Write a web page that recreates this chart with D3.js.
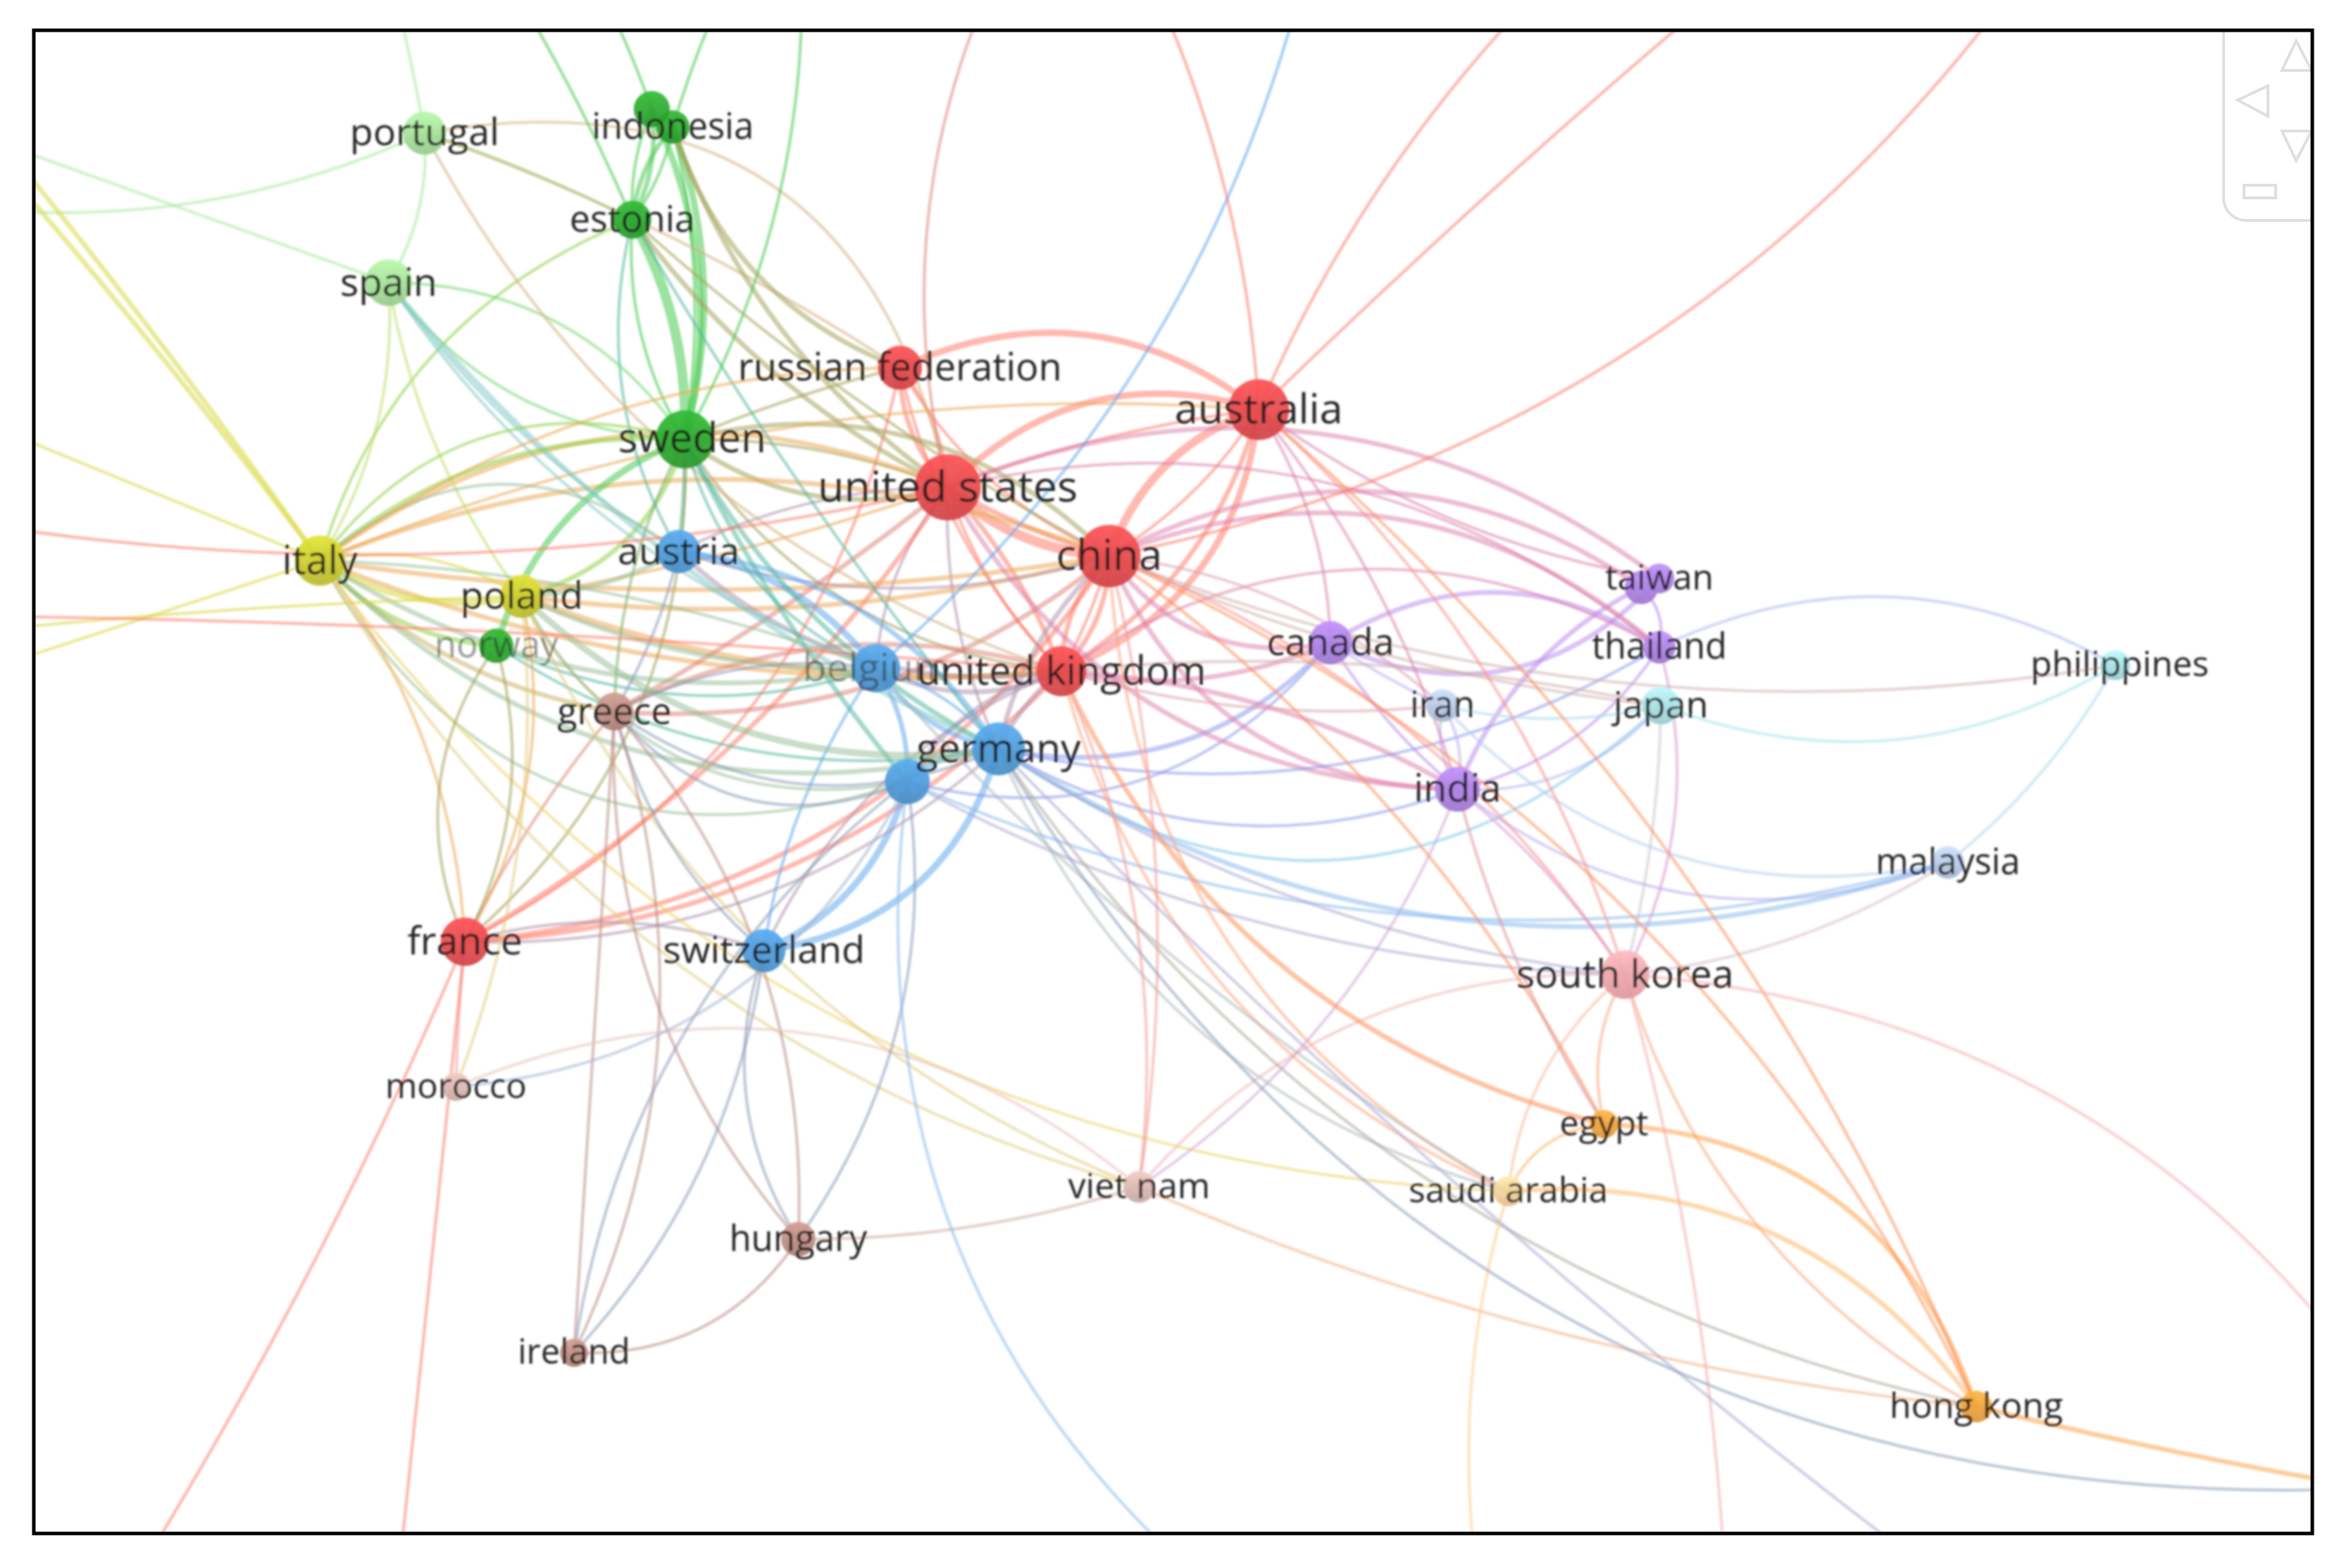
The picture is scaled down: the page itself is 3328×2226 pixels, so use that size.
<!DOCTYPE html>
<html>
<head>
<meta charset="utf-8">
<title>country map</title>
<script src="https://cdn.jsdelivr.net/npm/d3@7"></script>
<style>
    html, body { margin: 0; padding: 0; background: #fff; }
    svg { display: block; }
    text { font-family: "Open Sans", sans-serif; }
</style>
</head>
<body>
<div id="map"></div>
<script>
/* countries: name, map x, map y, occurrences, cluster */
const countries = [
    ['portugal', 284, 89, 24, 5], ['indonesia', 450, 85, 13, 1], ['finland', 436, 73, 16, 1],
    ['estonia', 423, 147, 18, 1], ['spain', 260, 189, 28, 5], ['sweden', 458, 294, 41, 1],
    ['russian federation', 602, 246, 25, 0], ['australia', 842, 274, 44, 0], ['united states', 634, 326, 50, 0],
    ['austria', 454, 369, 24, 2], ['china', 742, 372, 46, 0], ['italy', 214, 375, 32, 3],
    ['poland', 349, 399, 24, 3], ['norway', 332, 432, 14, 1], ['belgium', 586, 447, 30, 2],
    ['united kingdom', 710, 449, 32, 0], ['canada', 890, 430, 24, 4], ['taiwan', 1110, 387, 9, 4],
    ['singapore', 1098, 393, 13, 4], ['thailand', 1110, 433, 12, 4], ['iran', 965, 472, 12, 10],
    ['japan', 1111, 472, 18, 6], ['philippines', 1415, 445, 9, 6], ['germany', 668, 501, 35, 2],
    ['netherlands', 607, 523, 26, 2], ['greece', 411, 476, 18, 9], ['india', 975, 528, 26, 4],
    ['malaysia', 1303, 577, 12, 10], ['south korea', 1087, 652, 30, 8], ['france', 311, 630, 30, 0],
    ['switzerland', 511, 636, 24, 2], ['morocco', 305, 727, 7, 12], ['egypt', 1073, 752, 7, 7],
    ['viet nam', 762, 794, 11, 12], ['saudi arabia', 1009, 797, 9, 11], ['hungary', 534, 829, 14, 9],
    ['ireland', 384, 905, 7, 9], ['hong kong', 1322, 941, 11, 7]
];

/* no label on screen, covered by another node in the original */
const unlabelled = ['finland', 'netherlands', 'singapore'];
const fadedLabels = ['norway', 'belgium'];

const clusterColors = ['#e2474a', '#2aa52e', '#4c98d6', '#c9c92e', '#aa7fe0', '#a2dc96',
    '#a6dde0', '#f2a03c', '#f3a3a9', '#b98a80', '#b4c6e2', '#f6cf96', '#d6b4ae'];
const linkColors = ['#ff7866', '#42c848', '#5aa5ee', '#d6d63c', '#b888ee', '#a4e898',
    '#a0e4ee', '#ffa040', '#f8a8b0', '#b88c84', '#b4ccf0', '#ffcc88', '#e8c0bc'];

/* links leaving the visible part of the map: x, y, cluster */
const offMap = {
    o1: [258, -30, 5], o2: [330, -30, 1], o3: [390, -30, 1], o4: [495, -30, 1], o5: [536, -30, 1],
    o6: [672, -30, 9], o7: [762, -30, 0], o8: [876, -30, 2], o9: [1053, -30, 0], o10: [1180, -30, 0],
    o11: [1363, -30, 0], o12: [-30, 85, 5], o13: [-30, 138, 5], o14: [-30, 57, 3], o15: [-30, 75, 3],
    o16: [-30, 275, 3], o17: [-30, 348, 0], o18: [-30, 455, 3], o19: [-30, 424, 3], o20: [-30, 412, 0],
    o21: [75, 1080, 0], o22: [264, 1080, 0], o23: [830, 1080, 10], o24: [992, 1080, 11], o25: [1155, 1080, 8],
    o26: [1330, 1080, 8], o27: [1600, 998, 7], o28: [1600, 995, 9], o29: [1600, 945, 8]
};

/* source, target, strength, bend (share of the distance, + bulges left of source to target) */
const links = [
    ['united states', 'china', 5, -.09], ['united states', 'china', 2, -.03], ['united states', 'australia', 3, .15],
    ['united states', 'australia', 1, .03], ['australia', 'china', 4, -.12], ['australia', 'china', 1, .06],
    ['china', 'united kingdom', 2, .1], ['china', 'united kingdom', 2, -.1], ['china', 'united kingdom', 1, .03],
    ['australia', 'united kingdom', 3, .15], ['australia', 'united kingdom', 2, .1],
    ['united states', 'united kingdom', 2, .05], ['united states', 'united kingdom', 1, -.06],
    ['united states', 'russian federation', 2, .1], ['united states', 'russian federation', 1, -.08],
    ['russian federation', 'australia', 3, .15], ['russian federation', 'china', 1, -.08],
    ['russian federation', 'united kingdom', 1, -.07], ['united states', 'germany', 1, -.06],
    ['united states', 'belgium', 1, -.08], ['united states', 'france', 2, .06], ['france', 'russian federation', 1, -.12],
    ['france', 'united kingdom', 2, -.1], ['france', 'china', 2, -.12], ['france', 'greece', 1, .03],
    ['china', 'germany', 2, -.08], ['united kingdom', 'germany', 2, -.06], ['united kingdom', 'belgium', 2, .12],
    ['united kingdom', 'netherlands', 2, -.1], ['sweden', 'united states', 2, -.12], ['sweden', 'united states', 1, .05],
    ['sweden', 'china', 2, .14], ['sweden', 'united kingdom', 1, -.12], ['sweden', 'russian federation', 1, .02],
    ['italy', 'united states', 2, .14], ['italy', 'china', 2, .1], ['italy', 'china', 2, -.04],
    ['italy', 'united kingdom', 2, -.06], ['italy', 'australia', 1, .06], ['poland', 'china', 2, -.05],
    ['poland', 'united kingdom', 3, -.06], ['poland', 'united states', 1, -.02], ['greece', 'china', 2, -.1],
    ['greece', 'united kingdom', 2, .1], ['greece', 'united states', 2, -.02],
    ['austria', 'china', 1, -.08], ['austria', 'united kingdom', 2, -.12], ['austria', 'united states', 1, .06],
    ['austria', 'germany', 2, .12], ['austria', 'belgium', 3, .1],
    ['switzerland', 'germany', 3, -.16], ['switzerland', 'netherlands', 3, -.12], ['switzerland', 'belgium', 1, .06],
    ['france', 'switzerland', 1, .08], ['united kingdom', 'switzerland', 1, -.1],
    ['netherlands', 'germany', 2, .1], ['belgium', 'germany', 2, -.1], ['belgium', 'netherlands', 2, .08],
    ['belgium', 'germany', 1, .08], ['france', 'germany', 1, -.1],

    ['estonia', 'sweden', 5, .07], ['estonia', 'sweden', 1, -.08], ['indonesia', 'sweden', 3, .08], ['indonesia', 'sweden', 1, .05],
    ['finland', 'sweden', 3, .09], ['finland', 'estonia', 2, .08], ['indonesia', 'estonia', 2, -.08], ['indonesia', 'estonia', 1, .06],
    ['finland', 'estonia', 1, -.06], ['norway', 'sweden', 3, .12], ['poland', 'sweden', 2, -.14], ['estonia', 'austria', 1, -.1],
    ['italy', 'estonia', 1, .12], ['portugal', 'estonia', 1, .02], ['portugal', 'spain', 1, .08],
    ['spain', 'sweden', 1, .13], ['spain', 'sweden', 1, -.12], ['spain', 'germany', 2, -.06],
    ['spain', 'belgium', 1, -.08], ['spain', 'italy', 1, .08], ['spain', 'poland', 1, -.06],
    ['spain', 'austria', 1, -.05], ['portugal', 'united states', 1, .24], ['portugal', 'russian federation', 1, .03],
    ['portugal', 'united kingdom', 1, -.1], ['indonesia', 'united states', 2, -.08], ['indonesia', 'russian federation', 2, -.12],
    ['estonia', 'united states', 2, -.06], ['estonia', 'china', 1, -.03], ['estonia', 'germany', 1, -.02],
    ['sweden', 'germany', 2, -.08], ['sweden', 'belgium', 1, -.12], ['sweden', 'netherlands', 2, -.03],
    ['sweden', 'austria', 2, .02], ['sweden', 'greece', 1, -.06], ['sweden', 'france', 1, .12], ['norway', 'germany', 1, -.1],
    ['norway', 'belgium', 1, -.1], ['italy', 'sweden', 2, .1], ['italy', 'sweden', 1, .17],

    ['italy', 'poland', 3, -.1], ['italy', 'greece', 2, -.08], ['italy', 'norway', 2, -.1], ['italy', 'belgium', 2, -.1],
    ['italy', 'germany', 2, -.14], ['italy', 'netherlands', 1, -.2], ['italy', 'belgium', 1, .04], ['italy', 'austria', 1, .2],
    ['italy', 'france', 1, .08], ['italy', 'viet nam', 1, -.1], ['italy', 'saudi arabia', 1, -.12], ['italy', 'poland', 1, .1],
    ['poland', 'austria', 2, -.06], ['poland', 'germany', 3, -.12], ['poland', 'belgium', 2, -.06], ['poland', 'greece', 1, -.06],
    ['poland', 'france', 1, .1], ['poland', 'netherlands', 1, -.18], ['poland', 'viet nam', 1, -.1],
    ['norway', 'france', 1, .1], ['norway', 'france', 1, -.14], ['italy', 'russian federation', 1, .08],

    ['greece', 'germany', 1, -.14], ['greece', 'belgium', 1, .08], ['greece', 'netherlands', 1, -.18], ['greece', 'hungary', 1, .1],
    ['greece', 'ireland', 1, .0], ['greece', 'austria', 1, -.04], ['greece', 'switzerland', 1, -.08],
    ['hungary', 'greece', 1, .1], ['ireland', 'greece', 1, -.1],

    ['canada', 'taiwan', 2, -.18], ['canada', 'thailand', 2, .16], ['canada', 'india', 1, -.04], ['canada', 'iran', 1, -.02],
    ['canada', 'china', 2, .16], ['canada', 'united kingdom', 2, .08], ['canada', 'germany', 2, .14], ['canada', 'australia', 1, -.07],
    ['canada', 'netherlands', 1, .16], ['india', 'taiwan', 2, .1], ['india', 'thailand', 1, -.1], ['india', 'china', 2, .16],
    ['india', 'united states', 2, .14], ['india', 'united kingdom', 2, -.06], ['india', 'germany', 1, .12], ['india', 'viet nam', 1, .08],
    ['taiwan', 'united states', 2, -.14], ['singapore', 'china', 2, -.15], ['singapore', 'thailand', 1, .14],
    ['thailand', 'china', 2, -.15], ['thailand', 'united states', 1, -.12], ['thailand', 'united kingdom', 1, -.15],
    ['thailand', 'germany', 1, .1], ['thailand', 'philippines', 1, .13], ['china', 'philippines', 1, -.07],
    ['japan', 'philippines', 1, -.12], ['iran', 'japan', 1, -.06], ['india', 'japan', 1, -.12], ['japan', 'germany', 1, .2],
    ['japan', 'united kingdom', 1, -.04], ['japan', 'china', 1, .04], ['thailand', 'south korea', 1, .1], ['japan', 'south korea', 1, .03],
    ['iran', 'united kingdom', 1, .05], ['iran', 'china', 1, -.08], ['iran', 'india', 1, .1], ['iran', 'india', 1, -.1],
    ['iran', 'malaysia', 1, -.14], ['india', 'malaysia', 1, -.14], ['germany', 'malaysia', 2, -.12], ['netherlands', 'malaysia', 1, -.09],
    ['philippines', 'malaysia', 1, .05], ['malaysia', 'south korea', 1, .06], ['australia', 'taiwan', 1, -.06], ['australia', 'india', 1, .05],

    ['australia', 'south korea', 1, .07], ['china', 'south korea', 1, .08], ['south korea', 'germany', 1, .06],
    ['south korea', 'netherlands', 1, .06], ['south korea', 'india', 1, -.04], ['egypt', 'south korea', 1, .1],
    ['south korea', 'hong kong', 1, -.1], ['saudi arabia', 'south korea', 1, .1], ['viet nam', 'south korea', 1, .12],
    ['egypt', 'united kingdom', 2, .12], ['egypt', 'china', 1, -.06], ['egypt', 'india', 1, .04], ['egypt', 'saudi arabia', 1, -.14],
    ['egypt', 'hong kong', 2, .17], ['saudi arabia', 'united kingdom', 1, .12], ['saudi arabia', 'china', 1, .14],
    ['saudi arabia', 'germany', 1, .12], ['saudi arabia', 'belgium', 1, .04], ['saudi arabia', 'hong kong', 2, .14],
    ['china', 'hong kong', 1, .09], ['australia', 'hong kong', 1, .06], ['hong kong', 'germany', 1, .1],
    ['viet nam', 'hong kong', 1, -.04], ['viet nam', 'hungary', 1, .04], ['viet nam', 'united kingdom', 1, -.07],
    ['viet nam', 'china', 1, -.05],
    ['morocco', 'viet nam', 1, .15], ['hungary', 'ireland', 1, .14], ['hungary', 'netherlands', 1, -.1], ['hungary', 'switzerland', 1, .12],
    ['ireland', 'netherlands', 1, .1], ['ireland', 'switzerland', 1, -.08], ['morocco', 'france', 1, .01],
    ['morocco', 'netherlands', 1, -.14], ['morocco', 'poland', 1, -.06],

    ['o1', 'portugal', 1, .01], ['o2', 'estonia', 1, .02], ['o3', 'finland', 1, .02], ['o4', 'indonesia', 1, -.02],
    ['o5', 'sweden', 1, .07], ['o6', 'united states', 1, -.09], ['o7', 'australia', 1, .05], ['o8', 'belgium', 1, .08],
    ['o9', 'australia', 1, -.05], ['o10', 'australia', 1, -.01], ['o11', 'china', 1, .1],
    ['o12', 'spain', 1, 0], ['o13', 'portugal', 1, -.07], ['o14', 'italy', 2, .01], ['o15', 'italy', 2, .01],
    ['o16', 'italy', 1, 0], ['o17', 'united states', 1, -.05], ['o18', 'italy', 1, 0], ['o19', 'poland', 1, .01],
    ['o20', 'united kingdom', 1, .01], ['o21', 'france', 1, -.02], ['o22', 'france', 1, .0], ['o23', 'netherlands', 1, .14],
    ['o24', 'saudi arabia', 1, .06], ['o25', 'south korea', 1, -.03], ['o26', 'germany', 1, .02], ['o27', 'hong kong', 2, .01],
    ['o28', 'germany', 1, .15], ['o29', 'south korea', 1, -.12]
];

const W = 3328, H = 2226;
const MAP_W = 1568, MAP_H = 1049;

const xScale = d3.scaleLinear([0, MAP_W], [0, W]);
const yScale = d3.scaleLinear([0, MAP_H], [0, H]);
const rScale = d3.scaleLinear([7, 50], [20, 47]);
const fontScale = d3.scaleLinear([7, 50], [49, 61]);
const widthScale = d3.scaleLinear([1, 5], [4.4, 14]);

const left = 48, top_ = 43, right = 3283, bottom = 2177;
const labelShift = { sweden: [5, -1], philippines: [3, 0] };

const nodes = new Map();
countries.forEach(c => nodes.set(c[0], { name: c[0], x: c[1], y: c[2], occ: c[3], cluster: c[4] }));
Object.keys(offMap).forEach(k => {
    const o = offMap[k];
    nodes.set(k, { name: k, x: o[0], y: o[1], cluster: o[2] });
});

const svg = d3.select('#map').append('svg')
    .attr('width', W)
    .attr('height', H)
    .attr('viewBox', `0 0 ${W} ${H}`);

const defs = svg.append('defs');

defs.append('clipPath').attr('id', 'frameClip')
    .append('rect')
    .attr('x', left).attr('y', top_)
    .attr('width', right - left).attr('height', bottom - top_);

/* the original is an enlarged screenshot, so everything is a bit soft */
const soft = defs.append('filter').attr('id', 'soft')
    .attr('filterUnits', 'userSpaceOnUse')
    .attr('x', 0).attr('y', 0).attr('width', W).attr('height', H);
soft.append('feGaussianBlur').attr('stdDeviation', 1.6);

clusterColors.forEach((col, i) => {
    const grad = defs.append('linearGradient').attr('id', `node${i}`)
        .attr('x1', 0).attr('y1', 0).attr('x2', 0).attr('y2', 1);
    grad.append('stop').attr('offset', '0%').attr('stop-color', d3.color(col).brighter(.35));
    grad.append('stop').attr('offset', '100%').attr('stop-color', d3.color(col).darker(.25));
});

const map = svg.append('g')
    .attr('clip-path', 'url(#frameClip)')
    .append('g')
    .attr('filter', 'url(#soft)');

function linkPath (l) {
    const a = nodes.get(l[0]), b = nodes.get(l[1]);
    const ax = xScale(a.x), ay = yScale(a.y), bx = xScale(b.x), by = yScale(b.y);
    const dx = bx - ax, dy = by - ay;
    const cx = (ax + bx) / 2 + dy * l[3] * 2;
    const cy = (ay + by) / 2 - dx * l[3] * 2;
    const p = d3.path();
    p.moveTo(ax, ay);
    p.quadraticCurveTo(cx, cy, bx, by);
    return p.toString();
}

function linkColor (l) {
    const a = linkColors[nodes.get(l[0]).cluster];
    const b = linkColors[nodes.get(l[1]).cluster];
    return d3.interpolateRgb(a, b)(.5);
}

map.append('g')
    .selectAll('path')
    .data(links)
    .enter()
    .append('path')
        .attr('d', linkPath)
        .attr('fill', 'none')
        .attr('stroke', linkColor)
        .attr('stroke-opacity', .52)
        .attr('stroke-width', d => widthScale(d[2]))
        .attr('stroke-linecap', 'round');

const shown = Array.from(nodes.values()).filter(n => n.occ);

map.append('g')
    .selectAll('circle')
    .data(shown)
    .enter()
    .append('circle')
        .attr('cx', d => xScale(d.x))
        .attr('cy', d => yScale(d.y))
        .attr('r', d => rScale(d.occ))
        .attr('fill', d => `url(#node${d.cluster})`)
        .attr('fill-opacity', .92);

const labelled = shown.filter(n => !unlabelled.includes(n.name))
    .sort((a, b) => fadedLabels.includes(b.name) - fadedLabels.includes(a.name));

map.append('g')
    .selectAll('text')
    .data(labelled)
    .enter()
    .append('text')
        .attr('x', d => xScale(d.x + (labelShift[d.name] ? labelShift[d.name][0] : 0)))
        .attr('y', d => yScale(d.y + (labelShift[d.name] ? labelShift[d.name][1] : 0)) - 3)
        .attr('text-anchor', 'middle')
        .attr('dominant-baseline', 'central')
        .attr('font-size', d => fontScale(d.occ))
        .attr('fill', '#1a1a1a')
        .attr('fill-opacity', d => fadedLabels.includes(d.name) ? .45 : .97)
        .text(d => d.name);

/* navigation control in the top right corner */
const nav = svg.append('g')
    .attr('clip-path', 'url(#frameClip)')
    .attr('fill', 'none')
    .attr('stroke', '#dfdfdf')
    .attr('stroke-width', 4);

nav.append('rect').attr('x', 3157).attr('y', 0).attr('width', 240).attr('height', 313).attr('rx', 32);
nav.append('path').attr('d', 'M3260 58L3282 100L3240 100Z');
nav.append('path').attr('d', 'M3177 142L3220 122L3220 165Z');
nav.append('path').attr('d', 'M3240 186L3282 186L3260 228Z');
nav.append('rect').attr('x', 3186).attr('y', 263).attr('width', 45).attr('height', 18);

svg.append('rect')
    .attr('x', left).attr('y', top_)
    .attr('width', right - left).attr('height', bottom - top_)
    .attr('fill', 'none')
    .attr('stroke', '#000')
    .attr('stroke-width', 5);
</script>
</body>
</html>
